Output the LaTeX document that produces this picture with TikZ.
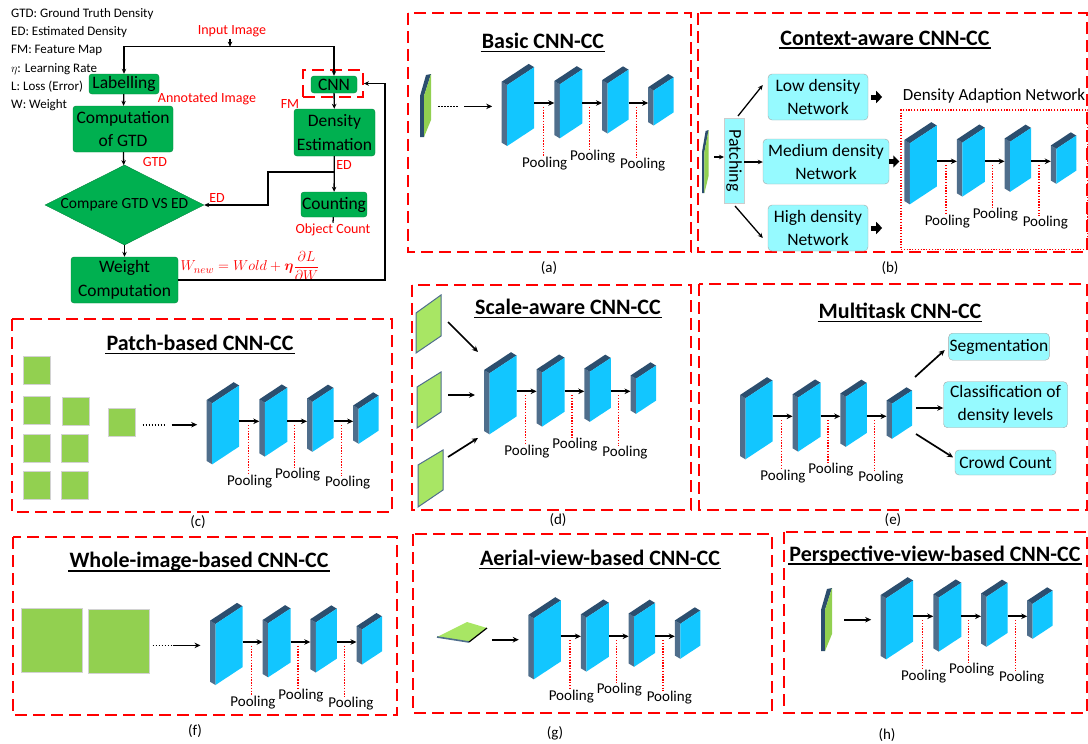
\documentclass[tikz,border=0pt]{standalone}
\usepackage{amsmath}
\usepackage{fontspec}
\setmainfont{Carlito}
\usetikzlibrary{arrows.meta,shapes.geometric,positioning}

\definecolor{flowgreen}{RGB}{0,176,80}
\definecolor{frontcyan}{RGB}{18,198,255}
\definecolor{sidegray}{RGB}{79,110,140}
\definecolor{topnavy}{RGB}{44,78,110}
\definecolor{patchgreen}{RGB}{146,208,80}
\definecolor{slabgreen}{RGB}{168,230,100}
\definecolor{netcyan}{RGB}{150,250,255}
\definecolor{framered}{RGB}{255,0,0}

% one feature map block: x, y (top left corner), width, height
\newcommand{\convblock}[4]{%
  \pgfmathsetmacro{\blockrise}{0.66*#3}
  \fill[sidegray] (#1,#2) -- ++(5.5,3.3) -- ++(0,#4) -- ++(-5.5,-3.3) -- cycle;
  \fill[topnavy] (#1,#2) -- ++(#3,-\blockrise) -- ++(5.5,3.3) -- ++(-#3,\blockrise) -- cycle;
  \fill[frontcyan] (#1,#2) ++(5.5,3.3) -- ++(#3,-\blockrise) -- ++(0,#4) -- ++(-#3,\blockrise) -- cycle;}

% thin input image seen from the side
\newcommand{\inslab}{%
  \fill[topnavy] (0,22) -- (6,1) -- (11,0) -- (4,22) -- (4,63) -- (0,63) -- cycle;
  \fill[patchgreen] (4,22) -- (11,0) -- (11,46) -- (4,63) -- cycle;}

% four blocks with pooling: prefix, x, y
\newcommand{\cnnchain}[3]{%
  \begin{scope}[shift={(#2,#3)}]
    \convblock{0}{0}{27}{61}
    \convblock{52.6}{-0.7}{22.5}{54}
    \convblock{100.3}{-1.5}{21}{50}
    \convblock{146.5}{5.5}{20}{35}
    \coordinate (#1in) at (-9.5,24.7);
    \coordinate (#1o1) at (32.5,21.3);
    \coordinate (#1i2) at (52.6,21.3);
    \coordinate (#1o2) at (80.6,21.3);
    \coordinate (#1i3) at (100.3,21.3);
    \coordinate (#1o3) at (126.8,21.3);
    \coordinate (#1i4) at (146.5,21.3);
    \coordinate (#1q1) at (41.7,25);
    \coordinate (#1q2) at (88,25);
    \coordinate (#1q3) at (134.5,25);
    \node[poollabel] (#1p1) at (43,82) {Pooling};
    \node[poollabel] (#1p2) at (91,75) {Pooling};
    \node[poollabel] (#1p3) at (141,83) {Pooling};
    \draw[convarrow] (#1o1) -- (#1i2);
    \draw[convarrow] (#1o2) -- (#1i3);
    \draw[convarrow] (#1o3) -- (#1i4);
    \draw[poolline] (#1q1) -- (#1q1 |- #1p1.north);
    \draw[poolline] (#1q2) -- (#1q2 |- #1p2.north);
    \draw[poolline] (#1q3) -- (#1q3 |- #1p3.north);
  \end{scope}}

% underlined panel heading: name, x, y, text
\newcommand{\paneltitle}[4]{%
  \node[paneltitle] (#1) at (#2,#3) {#4};
  \draw[line width=1.5pt] ([yshift=-3pt]#1.base west) -- ([yshift=-3pt]#1.base east);}

\begin{document}
\begin{tikzpicture}[x=1pt, y=-1pt,
    flowarrow/.style={-{Stealth[length=5pt,width=4.5pt]}, line width=1.3pt},
    flowline/.style={line width=1.3pt},
    convarrow/.style={-{Stealth[length=6pt,width=5.5pt]}, line width=1.7pt},
    fatarrow/.style={-{Triangle[length=6pt,width=12pt]}, line width=5pt},
    dotline/.style={line width=1.6pt, dash pattern=on 1.5pt off 1.5pt},
    poolline/.style={framered, line width=1.4pt, dash pattern=on 1.4pt off 1.4pt},
    redframe/.style={draw=framered, line width=1.8pt, dash pattern=on 12pt off 6pt},
    danframe/.style={draw=framered, line width=1.3pt, dash pattern=on 1.3pt off 1.5pt},
    flowbox/.style={draw=flowgreen!75!black, fill=flowgreen, rounded corners=3pt,
      align=center, inner sep=1pt, font=\fontsize{17.5}{23.5}\selectfont},
    flowdiamond/.style={diamond, aspect=2, draw=flowgreen!75!black, fill=flowgreen,
      inner sep=0pt, minimum width=159pt, minimum height=80pt, font=\fontsize{15.5}{17}\selectfont},
    netbox/.style={draw=gray!70, fill=netcyan, rounded corners=4pt, align=center,
      inner sep=1pt, font=\fontsize{17.5}{23}\selectfont},
    patchbox/.style={draw=gray!40, fill=netcyan, rotate=-90, inner sep=0pt,
      minimum width=85pt, minimum height=20pt, font=\fontsize{18}{20}\selectfont},
    patchsq/.style={fill=patchgreen, draw=gray!35, line width=0.5pt},
    slab/.style={fill=slabgreen, draw=sidegray, line width=1pt},
    redlabel/.style={text=framered, inner sep=1pt, font=\fontsize{14}{16}\selectfont},
    legendtext/.style={inner sep=0pt, font=\fontsize{13}{15}\selectfont},
    paneltitle/.style={inner sep=1pt, font=\fontsize{22}{24}\selectfont\bfseries},
    poollabel/.style={inner sep=0pt, font=\fontsize{15}{17}\selectfont},
    subcap/.style={font=\fontsize{15}{17}\selectfont}]

  \useasboundingbox (0,0) rectangle (1088,744);

  % Legend
  \foreach \txt [count=\i] in {GTD: Ground Truth Density, ED: Estimated Density,
      FM: Feature Map, $\eta$: Learning Rate, L: Loss (Error), W: Weight}
    \node[legendtext, anchor=base west] (leg\i) at (11,{-1.1+18.3*\i}) {\txt};

  % Training flow
  \node[flowbox, minimum width=70pt, minimum height=20pt] (lab) at (124,84) {Labelling};
  \node[flowbox, minimum width=46pt, minimum height=17pt] (cnn) at (334,84.5) {CNN};
  \node[redframe, minimum width=60pt, minimum height=27pt] (cnnbox) at (333,83.5) {};
  \node[flowbox, minimum width=100pt, minimum height=46pt] (comp) at (123,129) {Computation\\of GTD};
  \node[flowbox, minimum width=81pt, minimum height=47pt] (dens) at (334.5,132.5) {Density\\Estimation};
  \node[flowbox, minimum width=64pt, minimum height=25pt] (count) at (334,204.5) {Counting};
  \node[flowdiamond] (cmp) at (124.5,205) {Compare GTD VS ED};
  \node[flowbox, minimum width=107pt, minimum height=46pt] (weight) at (124.5,280) {Weight\\Computation};

  \node[redlabel] (inimg) at (232,31.7) {Input Image};
  \node[redlabel] (annlab) at (207,99) {Annotated Image};
  \node[redlabel] (gtdlab) at (155,162) {GTD};
  \node[redlabel] (fmlab) at (290,104) {FM};
  \node[redlabel] (edlab1) at (344,165) {ED};
  \node[redlabel] (edlab2) at (217,198) {ED};
  \node[redlabel] (objc) at (333,230) {Object Count};
  \node[redlabel, font=\fontsize{15}{17}\selectfont] (wupd) at (250,266)
    {$W_{new} = Wold + \boldsymbol{\eta}\dfrac{\partial L}{\partial W}$};

  \coordinate (split) at (230,46.7);
  \coordinate (edsplit) at (dens.south |- 0,172);
  \coordinate (edturn) at (268,172);
  \coordinate (fbturn) at (385,83.5);

  \draw[flowarrow] (inimg.south -| split) -- (split);
  \draw[flowarrow] (split) -| (lab.north);
  \draw[flowarrow] (split) -| (cnn.north);
  \draw[flowarrow] (lab) -- (comp);
  \draw[flowarrow] (comp) -- (cmp);
  \draw[flowarrow] (cnn) -- (dens);
  \draw[flowarrow] (dens) -- (count);
  \draw[flowarrow] (edsplit) -- (edturn) |- (cmp.east);
  \draw[flowline] (count) -- (objc.north);
  \draw[flowarrow] (cmp) -- (weight);
  \draw[flowarrow] (weight.east) -| (fbturn) -- (cnnbox.east);

  % (a) Basic
  \draw[redframe] (408,13) rectangle (691,252);
  \paneltitle{ta}{543}{41}{Basic CNN-CC}
  \begin{scope}[shift={(420,74)}] \inslab \end{scope}
  \cnnchain{a}{501.7}{81.7}
  \coordinate (asrc) at ([xshift=-28pt]ain);
  \draw[dotline] ([xshift=-54pt]ain) -- ([xshift=-34pt]ain);
  \draw[convarrow] (asrc) -- (ain);
  \node[subcap] (capa) at (549,268) {(a)};

  % (b) Context-aware
  \draw[redframe] (698,13) rectangle (1087,252);
  \paneltitle{tb}{885}{38}{Context-aware CNN-CC}
  \begin{scope}[shift={(702,130)}, xscale=0.6] \inslab \end{scope}
  \node[patchbox] (patch) at (734,160.5) {Patching};
  \node[netbox, minimum width=100pt, minimum height=46pt] (low) at (818,97) {Low density\\Network};
  \node[netbox, minimum width=126pt, minimum height=45pt] (med) at (826,161.5) {Medium density\\Network};
  \node[netbox, minimum width=100pt, minimum height=46pt] (high) at (818,228) {High density\\Network};
  \node[danframe, minimum width=186.7pt, minimum height=139.3pt] (dan) at (994.3,179.7) {};
  \node[inner sep=1pt, font=\fontsize{17}{19}\selectfont] (danlab) at (994,96) {Density Adaption Network};
  \cnnchain{b}{904.3}{140}
  \coordinate (bslab) at (714,157);
  \coordinate (pin) at (724,157);
  \coordinate (pup) at (738,116);
  \coordinate (pmid) at (744,162);
  \coordinate (pdown) at (735,206);
  \draw[flowarrow] (bslab) -- (pin);
  \draw[flowarrow] (pup) -- ([yshift=12pt, xshift=-5pt]low.west);
  \draw[flowarrow] (pmid) -- (pmid -| med.west);
  \draw[flowarrow] (pdown) -- ([yshift=-10pt, xshift=-5pt]high.west);
  \draw[fatarrow] ([xshift=3pt]low.east) -- ([xshift=14pt]low.east);
  \draw[fatarrow] (med.east) -- ([xshift=-1pt]dan.west |- med.east);
  \draw[fatarrow] ([xshift=3pt]high.east) -- ([xshift=14pt]high.east);
  \node[subcap] (capb) at (890,268) {(b)};

  % (c) Patch-based
  \draw[redframe] (12,319) rectangle (392,512);
  \paneltitle{tc}{200}{343}{Patch-based CNN-CC}
  \foreach \sx/\sy in {23/356, 23/396, 62/397, 23/434, 61/434, 23/471, 61/471, 108/408}
    \filldraw[patchsq] (\sx,\sy) rectangle ++(27,28);
  \cnnchain{c}{206.7}{400}
  \coordinate (csrc) at ([xshift=-25.5pt]cin);
  \draw[dotline] ([xshift=-54.5pt]cin) -- ([xshift=-30.5pt]cin);
  \draw[convarrow] (csrc) -- (cin);
  \node[subcap] (capc) at (198,522) {(c)};

  % (d) Scale-aware
  \draw[redframe] (412,285) rectangle (691,510);
  \paneltitle{td}{568}{307}{Scale-aware CNN-CC}
  \filldraw[slab] (416,313) -- (441,295) -- (441,336) -- (416,353) -- cycle;
  \filldraw[slab] (417,387) -- (441,372) -- (441,412) -- (417,428) -- cycle;
  \filldraw[slab] (418,465) -- (443,450) -- (443,490) -- (418,507) -- cycle;
  \cnnchain{d}{484}{370}
  \coordinate (ds1) at (448,322); \coordinate (de1) at (478,352);
  \coordinate (ds2) at (448,395); \coordinate (de2) at (475,395);
  \coordinate (ds3) at (448,457); \coordinate (de3) at (478,438);
  \draw[convarrow] (ds1) -- (de1);
  \draw[convarrow] (ds2) -- (de2);
  \draw[convarrow] (ds3) -- (de3);
  \node[subcap] (capd) at (558,520) {(d)};

  % (e) Multitask
  \draw[redframe] (699,284) rectangle (1087,510);
  \paneltitle{te}{900}{311}{Multitask CNN-CC}
  \cnnchain{e}{740}{395}
  \node[netbox, minimum width=100pt, minimum height=27pt] (seg) at (999,346.7) {Segmentation};
  \node[netbox, minimum width=124pt, minimum height=46pt] (cls) at (1005.5,404.7) {Classification of\\density levels};
  \node[netbox, minimum width=101pt, minimum height=25pt] (crowd) at (1005.5,462.5) {Crowd Count};
  \coordinate (eo1) at (915,377);
  \coordinate (eo2) at (916,408);
  \coordinate (eo3) at (916,434);
  \draw[convarrow, shorten >=5pt] (eo1) -- (seg.west);
  \draw[convarrow] (eo2) -- (eo2 -| cls.west);
  \draw[convarrow, shorten >=2pt] (eo3) -- ([yshift=4pt]crowd.west);
  \node[subcap] (cape) at (893,520) {(e)};

  % (f) Whole-image-based
  \draw[redframe] (13,537) rectangle (397,715);
  \paneltitle{tf}{199}{562}{Whole-image-based CNN-CC}
  \filldraw[patchsq] (21,608) rectangle (82,672);
  \filldraw[patchsq] (88,609) rectangle (149,673);
  \cnnchain{f}{210}{620.7}
  \coordinate (fsrc) at ([xshift=-27.8pt]fin);
  \draw[dotline] ([xshift=-47.8pt]fin) -- ([xshift=-27.8pt]fin);
  \draw[convarrow] (fsrc) -- (fin);
  \node[subcap] (capf) at (195,731) {(f)};

  % (g) Aerial-view-based
  \draw[redframe] (413,534) rectangle (772,713);
  \paneltitle{tg}{600}{558}{Aerial-view-based CNN-CC}
  \fill[slabgreen] (437,637) -- (467,622) -- (487,628) -- (469,642) -- cycle;
  \draw[sidegray, line width=1.6pt] (437,637) -- (469,642);
  \draw[line width=1.2pt] (469,642) -- (487,628);
  \cnnchain{g}{528.3}{615}
  \coordinate (gsrc) at ([xshift=-27pt]gin);
  \draw[convarrow] (gsrc) -- (gin);
  \node[subcap] (capg) at (555,733) {(g)};

  % (h) Perspective-view-based
  \draw[redframe] (784,532) rectangle (1087,713);
  \paneltitle{th}{935}{555}{Perspective-view-based CNN-CC}
  \begin{scope}[shift={(821,588)}] \inslab \end{scope}
  \cnnchain{h}{880.7}{595}
  \coordinate (hsrc) at ([xshift=-27pt]hin);
  \draw[convarrow] (hsrc) -- (hin);
  \node[subcap] (caph) at (887,735) {(h)};

\end{tikzpicture}
\end{document}
